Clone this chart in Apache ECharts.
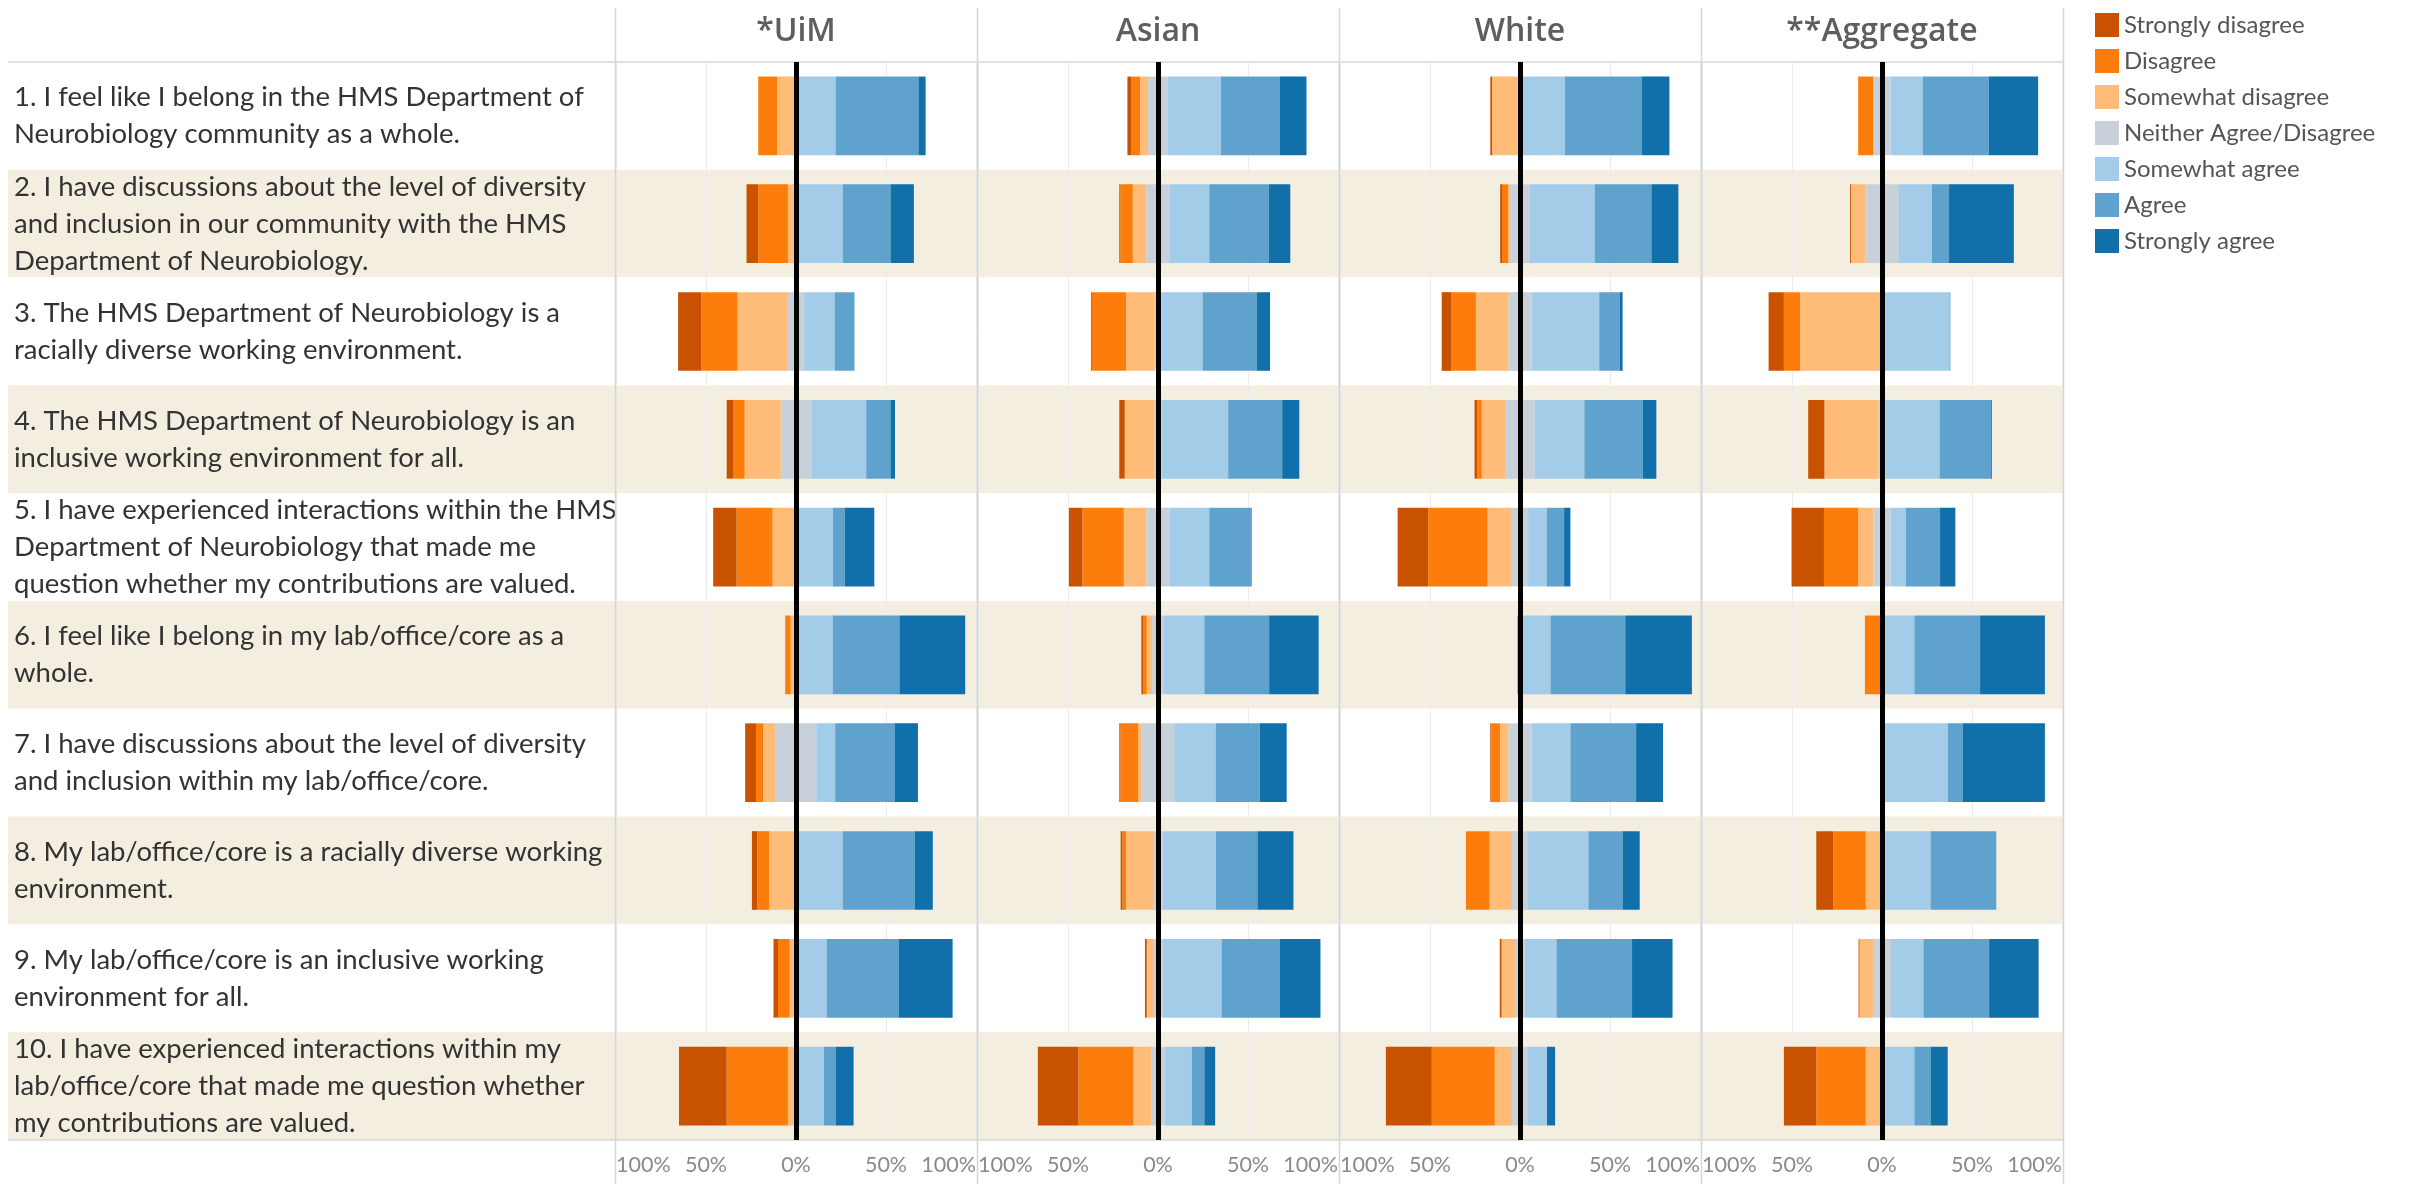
<!DOCTYPE html>
<html><head><meta charset="utf-8">
<script src="https://cdn.jsdelivr.net/npm/echarts@6/dist/echarts.min.js"></script>
<style>html,body{margin:0;padding:0;background:#fff}#c{width:2435px;height:1184px}</style>
</head><body><div id="c"></div><script>
const questions = [
  '1. I feel like I belong in the HMS Department of\nNeurobiology community as a whole.',
  '2. I have discussions about the level of diversity\nand inclusion in our community with the HMS\nDepartment of Neurobiology.',
  '3. The HMS Department of Neurobiology is a\nracially diverse working environment.',
  '4. The HMS Department of Neurobiology is an\ninclusive working environment for all.',
  '5. I have experienced interactions within the HMS\nDepartment of Neurobiology that made me\nquestion whether my contributions are valued.',
  '6. I feel like I belong in my lab/office/core as a\nwhole.',
  '7. I have discussions about the level of diversity\nand inclusion within my lab/office/core.',
  '8. My lab/office/core is a racially diverse working\nenvironment.',
  '9. My lab/office/core is an inclusive working\nenvironment for all.',
  '10. I have experienced interactions within my\nlab/office/core that made me question whether\nmy contributions are valued.'
];
const groups = ['*UiM', 'Asian', 'White', '**Aggregate'];
const responses = ['Strongly disagree', 'Disagree', 'Somewhat disagree', 'Neither Agree/Disagree', 'Somewhat agree', 'Agree', 'Strongly agree'];
const colors = ['#c85200', '#fc7d0b', '#ffbc79', '#c8d0d9', '#a3cce9', '#5fa2ce', '#1170aa'];
const tickLabels = ['100%', '50%', '0%', '50%', '100%'];

// percentages per question: [SD, D, SWD, Neither, SWA, A, SA]
const uimValues = [
  [0, 10.5, 10.5, 0, 22, 46, 4],
  [6.5, 16.5, 4.5, 0, 26, 26.5, 13],
  [13, 20, 28, 9, 17, 11, 0],
  [3.5, 6.5, 20, 17, 30.5, 13.5, 2.5],
  [13, 20, 13, 0, 20.5, 6.5, 16.5],
  [0, 3, 3, 0, 20.5, 37, 36.5],
  [6, 4, 7, 22.5, 10.5, 33, 13],
  [3, 6.5, 15, 0, 26, 40, 10],
  [2.5, 6.5, 3.5, 0, 17, 40, 30],
  [26.5, 34, 4.5, 0, 15.5, 6.5, 10]
];
const asianValues = [
  [2, 5, 4.5, 11, 29.5, 32.5, 15],
  [0.5, 7, 7.5, 13, 22, 33, 12],
  [0.5, 19, 16, 3.5, 23, 30, 7.5],
  [3, 0, 16.5, 4, 37, 30, 9.5],
  [7.5, 23, 12.5, 13, 22, 23, 0.5],
  [1, 2, 3, 6.5, 22.5, 36, 27.5],
  [0.5, 10, 2, 18, 23, 24.5, 15],
  [1, 2, 15, 5.5, 29.5, 23, 20],
  [1, 0, 3.5, 5.5, 32.5, 32.5, 22.5],
  [22.5, 30.5, 10, 7.5, 15, 7, 6]
];
const whiteValues = [
  [1, 0, 15.5, 0, 25, 42.5, 15.5],
  [1, 3.5, 1, 11, 36, 31.5, 15],
  [5.5, 13.5, 18, 13, 37.5, 11.5, 1.5],
  [1.5, 2.5, 13, 16.5, 27.5, 32.5, 7.5],
  [17, 33, 13.5, 9, 10.5, 9.5, 3.5],
  [0, 1.5, 0, 0, 17, 41.5, 37],
  [0.5, 5, 4.5, 13, 21.5, 36.5, 15],
  [0, 13, 12.5, 9, 33.5, 19, 9.5],
  [1, 0, 7.5, 5.5, 17.5, 42, 22.5],
  [25.5, 35, 9.5, 9, 10.5, 0, 4.5]
];
const aggregateValues = [
  [0, 8.5, 0, 9.5, 18, 36.5, 27.5],
  [0.5, 0, 8, 18.5, 18.5, 9.5, 36],
  [8.5, 9, 45.5, 0, 37.5, 0.5, 0],
  [9, 0, 30, 4, 30, 28.5, 0.5],
  [18, 19, 8.5, 9.5, 8.5, 19, 8.5],
  [0, 9.5, 0, 0, 18, 36.5, 36],
  [0, 0, 0, 0, 36.5, 8.5, 45.5],
  [9.5, 18, 9, 0, 27, 36.5, 0],
  [0.5, 0, 7.5, 10, 18, 36.5, 27.5],
  [18, 27.5, 9, 0, 18, 9, 9.5]
];
const groupValues = [uimValues, asianValues, whiteValues, aggregateValues];

// layout
const W = 2435, H = 1184;
const TOP = 62, BOTTOM_Y = 1140;
const PANEL0 = 616, PANEL_STEP = 362, PANEL_W = 360;
const FONT = 'Lato, "Open Sans", sans-serif';
const HEAD_FONT = '"Open Sans", Lato, sans-serif';
const BAND = '#f4eee0';

const grids = [{ left: 8, top: TOP, width: PANEL0 + 4 * PANEL_STEP - 8, height: BOTTOM_Y - TOP }];
const xAxes = [{ gridIndex: 0, type: 'value', min: 0, max: 1, show: false }];
const yAxes = [{
  gridIndex: 0, type: 'category', data: questions, inverse: true,
  axisLine: { show: false }, axisTick: { show: false },
  axisLabel: { inside: true, align: 'left', margin: 6, fontSize: 27.5, lineHeight: 37, color: '#333', fontFamily: FONT },
  splitLine: { show: false },
  splitArea: { show: true, interval: 0, areaStyle: { color: ['#ffffff', BAND] } }
}];
const series = [];
const graphics = [];

groups.forEach((g, gi) => {
  const left = PANEL0 + gi * PANEL_STEP;
  const idx = gi + 1;
  grids.push({ left: left, top: TOP, width: PANEL_W, height: BOTTOM_Y - TOP });
  xAxes.push({
    gridIndex: idx, type: 'value', min: -100, max: 100, interval: 50,
    axisLine: { show: false }, axisTick: { show: false },
    splitLine: { show: true, lineStyle: { color: '#ebebeb', width: 1 } },
    axisLabel: {
      fontSize: 21.5, color: '#8a8a8a', fontFamily: FONT, margin: 14,
      alignMinLabel: 'left', alignMaxLabel: 'right',
      formatter: v => tickLabels[Math.round((v + 100) / 50)]
    }
  });
  yAxes.push({
    gridIndex: idx, type: 'category', data: questions, inverse: true, show: false
  });
  const vals = groupValues[gi];
  // order from zero outward: neutral-left, SWD, D, SD ; neutral-right, SWA, A, SA
  const plan = [[3, -0.5], [2, -1], [1, -1], [0, -1], [3, 0.5], [4, 1], [5, 1], [6, 1]];
  plan.forEach(([ri, f], k) => {
    const s = {
      name: responses[ri], type: 'bar', stack: 'g' + gi,
      xAxisIndex: idx, yAxisIndex: idx, barWidth: '73%',
      itemStyle: { color: colors[ri] },
      data: vals.map(r => r[ri] * f),
      silent: true
    };
    if (k === 0) {
      s.markLine = {
        silent: true, symbol: 'none', label: { show: false },
        lineStyle: { color: '#000', width: 5, type: 'solid' },
        data: [{ xAxis: 0 }], z: 10
      };
    }
    series.push(s);
  });
  graphics.push({
    type: 'text', z: 10,
    style: { text: g, x: left + PANEL_W / 2, y: 32, textAlign: 'center', textVerticalAlign: 'middle',
      font: '600 32px ' + HEAD_FONT, fill: '#5e5e5e' }
  });
});

// frame lines
for (let i = 0; i <= 4; i++) {
  const x = PANEL0 + i * PANEL_STEP - 0.5;
  graphics.push({ type: 'line', z: 5, shape: { x1: x, y1: 8, x2: x, y2: H }, style: { stroke: '#d6d6d6', lineWidth: 1.5 } });
}
graphics.push({ type: 'line', z: 5, shape: { x1: 8, y1: TOP, x2: PANEL0 + 4 * PANEL_STEP, y2: TOP }, style: { stroke: '#d6d6d6', lineWidth: 1.5 } });
graphics.push({ type: 'line', z: 5, shape: { x1: 8, y1: BOTTOM_Y, x2: PANEL0 + 4 * PANEL_STEP, y2: BOTTOM_Y }, style: { stroke: '#d6d6d6', lineWidth: 1.5 } });

const chart = echarts.init(document.getElementById('c'), null, { renderer: 'canvas' });
chart.setOption({
  animation: false,
  backgroundColor: '#fff',
  textStyle: { fontFamily: FONT },
  grid: grids, xAxis: xAxes, yAxis: yAxes, series: series,
  legend: {
    data: responses, orient: 'vertical', left: 2090, top: 8,
    itemWidth: 24, itemHeight: 24, itemGap: 12, icon: 'rect',
    textStyle: { fontSize: 24, color: '#555', fontFamily: FONT }
  },
  graphic: graphics
});
</script></body></html>
